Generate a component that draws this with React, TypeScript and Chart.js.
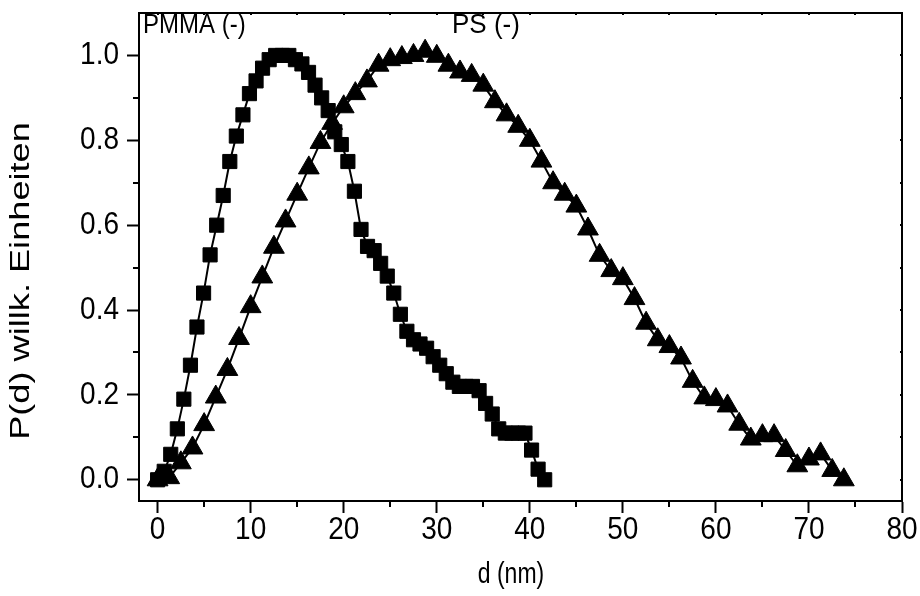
import React, { useEffect, useRef } from 'react';
import { Chart, registerables } from 'chart.js';

Chart.register(...registerables);

// PMMA (-) : d (nm) and P(d)
const pmmaX = [0.0, 0.71, 1.41, 2.12, 2.82, 3.53, 4.23, 4.94, 5.64, 6.35, 7.05, 7.76, 8.46, 9.17, 9.87, 10.58, 11.28, 11.99, 12.69, 13.4, 14.1, 14.81, 15.51, 16.22, 16.92, 17.63, 18.33, 19.04, 19.74, 20.45, 21.15, 21.86, 22.56, 23.27, 23.97, 24.68, 25.38, 26.09, 26.79, 27.5, 28.2, 28.91, 29.61, 30.32, 31.02, 31.73, 32.43, 33.14, 33.84, 34.55, 35.25, 35.96, 36.66, 37.37, 38.07, 38.78, 39.48, 40.19, 40.89, 41.6];
const pmmaY = [0.0, 0.02, 0.06, 0.12, 0.19, 0.27, 0.36, 0.44, 0.53, 0.6, 0.67, 0.75, 0.81, 0.86, 0.91, 0.94, 0.97, 0.99, 1.0, 1.0, 1.0, 0.99, 0.98, 0.96, 0.93, 0.9, 0.87, 0.82, 0.79, 0.75, 0.68, 0.59, 0.55, 0.54, 0.51, 0.48, 0.44, 0.39, 0.35, 0.33, 0.32, 0.31, 0.29, 0.27, 0.25, 0.23, 0.22, 0.22, 0.22, 0.21, 0.18, 0.155, 0.12, 0.11, 0.11, 0.11, 0.11, 0.07, 0.025, 0.0];

// PS (-) : d (nm) and P(d)
const psX = [0, 1.25, 2.5, 3.75, 5, 6.25, 7.5, 8.75, 10, 11.25, 12.5, 13.75, 15, 16.25, 17.5, 18.75, 20, 21.25, 22.5, 23.75, 25, 26.25, 27.5, 28.75, 30, 31.25, 32.5, 33.75, 35, 36.25, 37.5, 38.75, 40, 41.25, 42.5, 43.75, 45, 46.25, 47.5, 48.75, 50, 51.25, 52.5, 53.75, 55, 56.25, 57.5, 58.75, 60, 61.25, 62.5, 63.75, 65, 66.25, 67.5, 68.75, 70, 71.25, 72.5, 73.75];
const psY = [0.0, 0.005, 0.04, 0.075, 0.13, 0.195, 0.26, 0.333, 0.408, 0.478, 0.548, 0.61, 0.673, 0.735, 0.795, 0.84, 0.879, 0.91, 0.94, 0.977, 0.99, 0.995, 1.0, 1.01, 0.998, 0.977, 0.961, 0.953, 0.93, 0.891, 0.86, 0.833, 0.8, 0.751, 0.7, 0.673, 0.645, 0.591, 0.529, 0.493, 0.474, 0.427, 0.369, 0.33, 0.314, 0.287, 0.232, 0.193, 0.189, 0.174, 0.131, 0.096, 0.104, 0.104, 0.069, 0.033, 0.049, 0.061, 0.022, 0.0];

const xTicks = [0, 10, 20, 30, 40, 50, 60, 70, 80];
const xMinorTicks = [5, 15, 25, 35, 45, 55, 65, 75];
const yTicks = [0, 0.2, 0.4, 0.6, 0.8, 1.0];
const yMinorTicks = [0.1, 0.3, 0.5, 0.7, 0.9];

const xTitle = 'd (nm)';
const yTitle = 'P(d) willk. Einheiten';
const pmmaLabel = 'PMMA (-)';
const psLabel = 'PS (-)';

const FONT = '"Liberation Sans", Arial, Helvetica, sans-serif';

function drawText(ctx: CanvasRenderingContext2D, text: string, x: number, y: number, size: number, align: CanvasTextAlign, baseline: CanvasTextBaseline, stretch = 1, rotated = false) {
  ctx.save();
  ctx.translate(x, y);
  if (rotated) {
    ctx.rotate(-Math.PI / 2);
    ctx.scale(stretch, 1);
  } else {
    ctx.scale(1, stretch);
  }
  ctx.font = `${size}px ${FONT}`;
  ctx.textAlign = align;
  ctx.textBaseline = baseline;
  ctx.fillStyle = '#000';
  ctx.fillText(text, 0, 0);
  ctx.restore();
}

const framePlugin = {
  id: 'frameAndText',
  afterDraw(chart: any) {
    const { ctx, chartArea: a } = chart;
    const xs = chart.scales.x;
    const ys = chart.scales.y;
    ctx.save();
    ctx.strokeStyle = '#000';
    ctx.lineWidth = 2;
    ctx.beginPath();
    ctx.moveTo(a.left - 1, a.top);
    ctx.lineTo(a.right, a.top);
    ctx.lineTo(a.right, a.bottom + 1);
    ctx.stroke();

    ctx.beginPath();
    for (const v of xMinorTicks) {
      const p = Math.round(xs.getPixelForValue(v));
      ctx.moveTo(p, a.bottom);
      ctx.lineTo(p, a.bottom + 6);
    }
    for (const v of yMinorTicks) {
      const p = Math.round(ys.getPixelForValue(v));
      ctx.moveTo(a.left, p);
      ctx.lineTo(a.left - 6, p);
    }
    for (const v of xTicks.concat(xMinorTicks)) {
      const p = Math.round(xs.getPixelForValue(v));
      ctx.moveTo(p, a.top);
      ctx.lineTo(p, a.top + 2);
    }
    for (const v of yTicks.concat(yMinorTicks)) {
      const p = Math.round(ys.getPixelForValue(v));
      ctx.moveTo(a.right, p);
      ctx.lineTo(a.right - 2, p);
    }
    ctx.stroke();
    ctx.restore();

    // tick labels
    for (const v of xTicks) {
      drawText(ctx, String(v), xs.getPixelForValue(v), a.bottom + 29, 28, 'center', 'middle', 1.12);
    }
    for (const v of yTicks) {
      drawText(ctx, v.toFixed(1), a.left - 20, ys.getPixelForValue(v), 28, 'right', 'middle', 1.12);
    }

    drawText(ctx, pmmaLabel, 143, 33, 24, 'left', 'alphabetic', 1.12);
    drawText(ctx, psLabel, 452, 33, 26, 'left', 'alphabetic', 1.05);
    drawText(ctx, xTitle, 511, 575, 23, 'center', 'middle', 1.3);
    drawText(ctx, yTitle, 22, 281, 27, 'center', 'middle', 1.34, true);
  },
};

export default function App() {
  const ref = useRef<HTMLCanvasElement | null>(null);

  useEffect(() => {
    if (!ref.current) return;
    const chart = new Chart(ref.current, {
      type: 'scatter',
      data: {
        datasets: [
          {
            label: pmmaLabel,
            data: pmmaX.map((x, i) => ({ x, y: pmmaY[i] })),
            showLine: true,
            borderColor: '#000',
            borderWidth: 2,
            backgroundColor: '#000',
            pointStyle: 'rect',
            pointRadius: 10,
            pointBorderWidth: 1,
            pointBorderColor: '#000',
            pointBackgroundColor: '#000',
            tension: 0,
          },
          {
            label: psLabel,
            data: psX.map((x, i) => ({ x, y: psY[i] })),
            showLine: true,
            borderColor: '#000',
            borderWidth: 2,
            backgroundColor: '#000',
            pointStyle: 'triangle',
            pointRadius: 12,
            pointBorderWidth: 1,
            pointBorderColor: '#000',
            pointBackgroundColor: '#000',
            tension: 0,
          },
        ],
      },
      options: {
        responsive: false,
        animation: false,
        events: [],
        layout: { padding: { top: 8, right: 18, left: 0, bottom: 0 } },
        plugins: {
          legend: { display: false },
          tooltip: { enabled: false },
          title: { display: false },
        },
        scales: {
          x: {
            type: 'linear',
            min: -2,
            max: 80,
            afterBuildTicks: (s: any) => {
              s.ticks = xTicks.map((v) => ({ value: v }));
            },
            afterFit: (s: any) => {
              s.height = 95;
            },
            ticks: { display: false, autoSkip: false },
            grid: {
              display: true,
              drawOnChartArea: false,
              drawTicks: true,
              tickLength: 12,
              tickWidth: 2,
              tickColor: '#000',
            },
            border: { display: true, color: '#000', width: 2 },
          },
          y: {
            type: 'linear',
            min: -0.05,
            max: 1.1,
            afterBuildTicks: (s: any) => {
              s.ticks = yTicks.map((v) => ({ value: v }));
            },
            afterFit: (s: any) => {
              s.width = 139;
            },
            ticks: { display: false, autoSkip: false },
            grid: {
              display: true,
              drawOnChartArea: false,
              drawTicks: true,
              tickLength: 12,
              tickWidth: 2,
              tickColor: '#000',
            },
            border: { display: true, color: '#000', width: 2 },
          },
        },
      },
      plugins: [framePlugin],
    });
    return () => chart.destroy();
  }, []);

  return (
    <div style={{ position: 'absolute', left: 0, top: 0, width: 920, height: 596, background: '#fff' }}>
      <canvas ref={ref} width={920} height={596} style={{ display: 'block', width: 920, height: 596 }} />
    </div>
  );
}
